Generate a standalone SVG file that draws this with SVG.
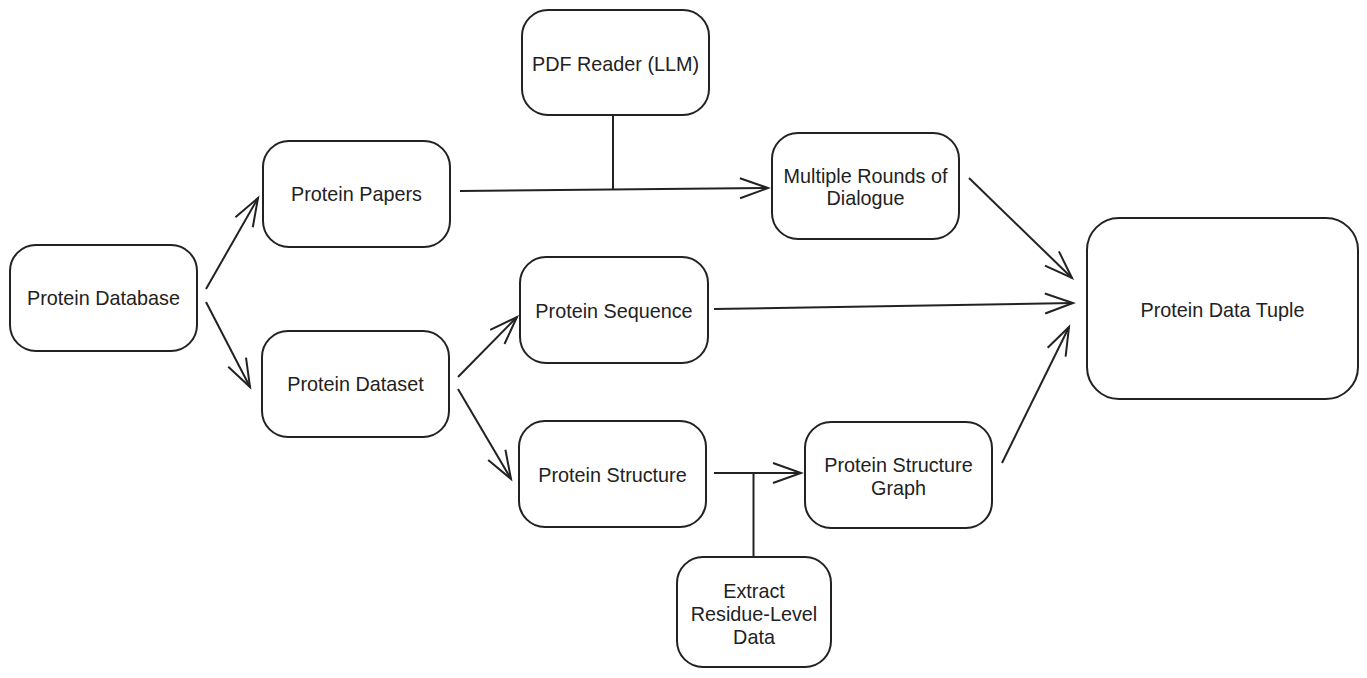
<svg xmlns="http://www.w3.org/2000/svg" width="1367" height="678" viewBox="0 0 1367 678">
<style>
.box{fill:#fff;stroke:#222;stroke-width:2}
.lbl{font-family:"Liberation Sans",Arial,sans-serif;font-size:19.8px;fill:#222;text-anchor:middle}
.edge{fill:none;stroke:#222;stroke-width:2}
</style>
<defs>
<marker id="arr" markerUnits="userSpaceOnUse" viewBox="-32 -14 36 28" markerWidth="36" markerHeight="28" refX="0" refY="0" orient="auto" overflow="visible">
<path d="M-28,-10 L0,0 L-28,10" fill="none" stroke="#222" stroke-width="2"/>
</marker>
</defs>
<rect width="1367" height="678" fill="#fff"/>
<g id="connectors">
<path class="edge" d="M206,289 L258,198" marker-end="url(#arr)"/>
<path class="edge" d="M206,302 L250,387" marker-end="url(#arr)"/>
<path class="edge" d="M460,191 L768,188" marker-end="url(#arr)"/>
<path class="edge" d="M613,116 L613,190"/>
<path class="edge" d="M458,377 L517,317" marker-end="url(#arr)"/>
<path class="edge" d="M458,389 L511,479" marker-end="url(#arr)"/>
<path class="edge" d="M714,309 L1073,303" marker-end="url(#arr)"/>
<path class="edge" d="M969,178 L1072,278" marker-end="url(#arr)"/>
<path class="edge" d="M1002,463 L1069,327" marker-end="url(#arr)"/>
<path class="edge" d="M714,473 L801,473" marker-end="url(#arr)"/>
<path class="edge" d="M753.5,473 L753.5,557"/>
</g>
<g id="n-database"><rect class="box" x="10" y="245" width="187" height="106" rx="26"/><text class="lbl" x="103.5" y="305">Protein Database</text></g>
<g id="n-papers"><rect class="box" x="263" y="141" width="187" height="106" rx="26"/><text class="lbl" x="356.5" y="201">Protein Papers</text></g>
<g id="n-dataset"><rect class="box" x="262" y="331" width="187" height="106" rx="26"/><text class="lbl" x="355.5" y="391">Protein Dataset</text></g>
<g id="n-pdf"><rect class="box" x="522" y="10" width="187" height="105" rx="26"/><text class="lbl" x="615.5" y="71">PDF Reader (LLM)</text></g>
<g id="n-dialogue"><rect class="box" x="772" y="133" width="187" height="106" rx="26"/><text class="lbl" x="865.5" y="183">Multiple Rounds of</text><text class="lbl" x="865.5" y="205">Dialogue</text></g>
<g id="n-sequence"><rect class="box" x="520" y="257" width="188" height="106" rx="26"/><text class="lbl" x="614" y="318">Protein Sequence</text></g>
<g id="n-structure"><rect class="box" x="519" y="421" width="187" height="106" rx="26"/><text class="lbl" x="612.5" y="482">Protein Structure</text></g>
<g id="n-graph"><rect class="box" x="805" y="422" width="187" height="106" rx="26"/><text class="lbl" x="898.5" y="472">Protein Structure</text><text class="lbl" x="898.5" y="495">Graph</text></g>
<g id="n-extract"><rect class="box" x="677" y="557" width="154" height="110" rx="26"/><text class="lbl" x="754" y="598">Extract</text><text class="lbl" x="754" y="621">Residue-Level</text><text class="lbl" x="754" y="644">Data</text></g>
<g id="n-tuple"><rect class="box" x="1087" y="218" width="271" height="181" rx="32"/><text class="lbl" x="1222.5" y="317">Protein Data Tuple</text></g>
</svg>
